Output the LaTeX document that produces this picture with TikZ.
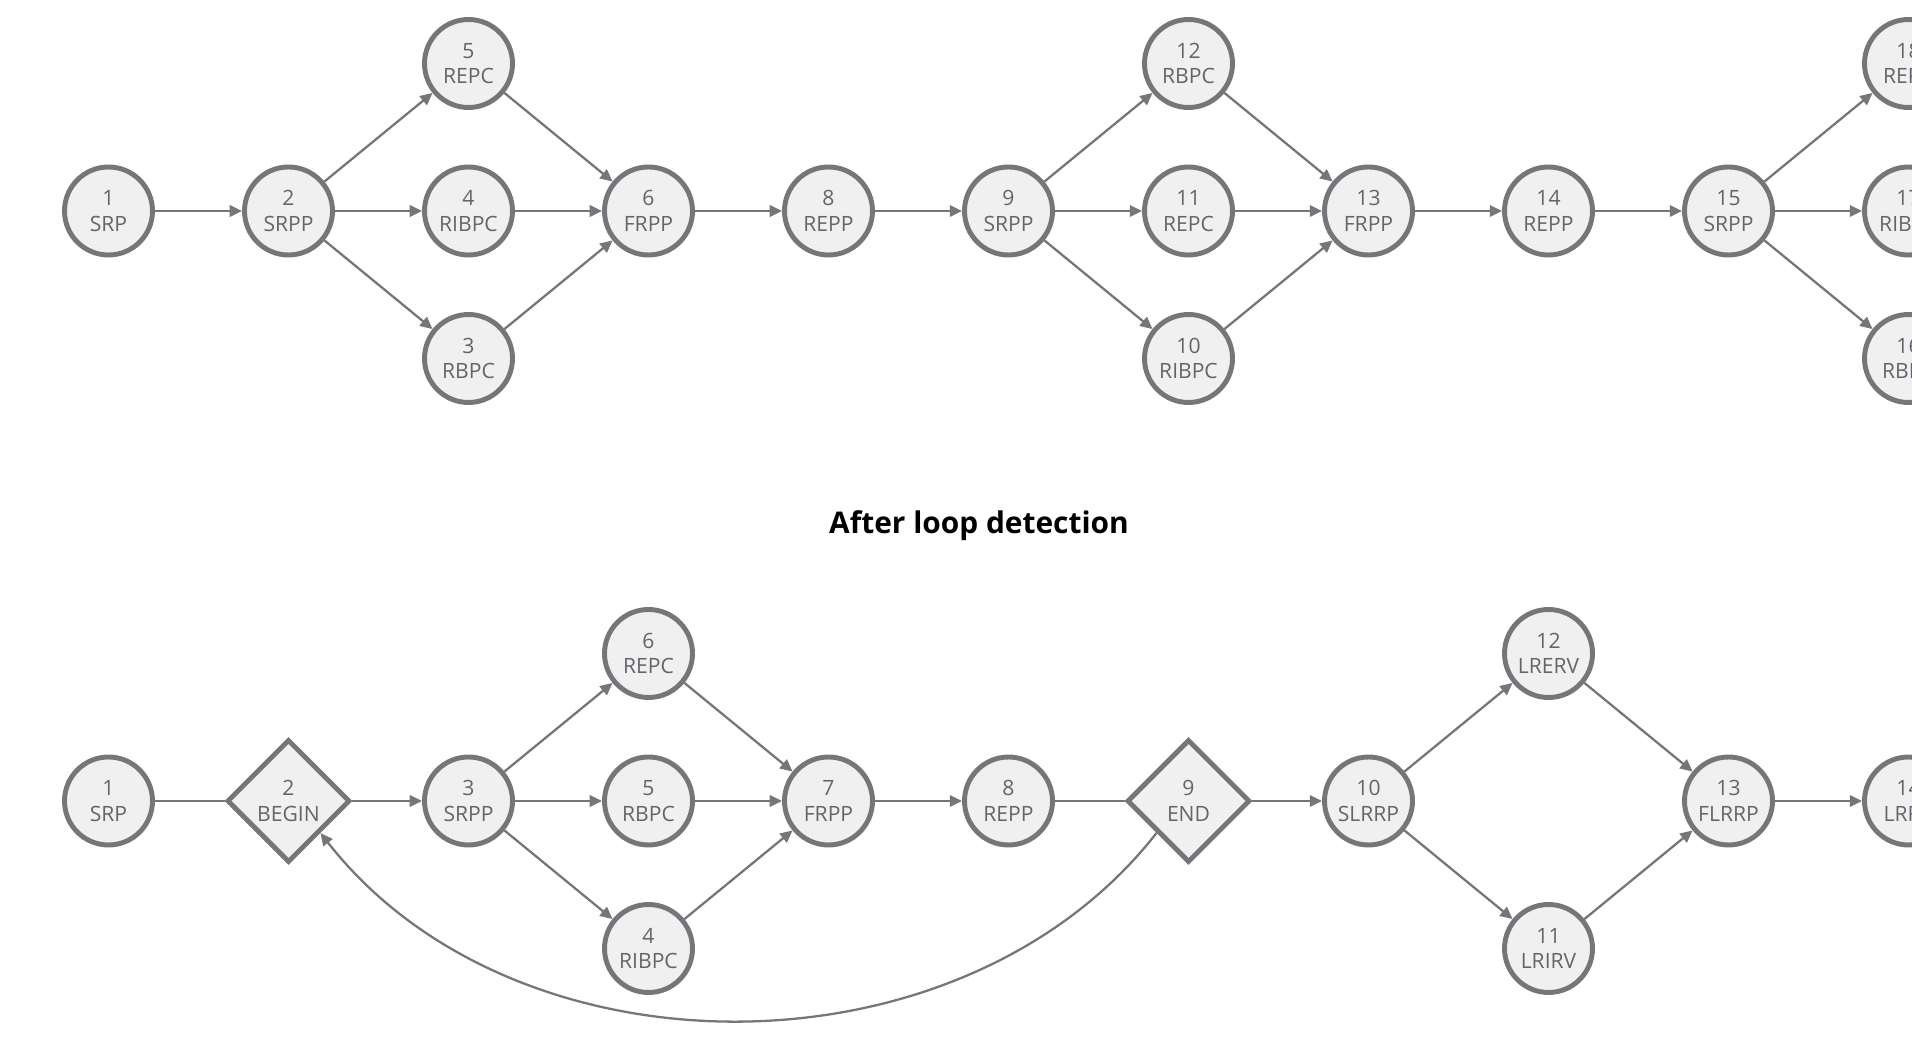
\documentclass[tikz,border=0pt]{standalone}
\usepackage{fontspec}
\setmainfont{Open Sans}
\usetikzlibrary{shapes.geometric,arrows.meta}
\definecolor{edgegray}{RGB}{118,118,122}
\definecolor{nodefill}{RGB}{240,240,240}
\definecolor{textgray}{RGB}{100,100,106}

\begin{document}
\begin{tikzpicture}[x=3.6cm, y=2.95cm, >={Triangle[length=7pt,width=6.5pt]}]
      \tikzset{
  stepnode/.style={
    circle,
    draw=edgegray,
    fill=nodefill,
    line width=2.8pt,
    minimum size=1.76cm,
    inner sep=0pt,
    align=center,
    text=textgray,
    font=\fontsize{12}{14.5}\selectfont
  },
  gatenode/.style={
    diamond,
    aspect=1,
    draw=edgegray,
    fill=nodefill,
    line width=2.8pt,
    minimum size=2.46cm,
    inner sep=0pt,
    align=center,
    text=textgray,
    font=\fontsize{12}{14.5}\selectfont
  },
  flow/.style={
    draw=edgegray,
    line width=1.3pt
  }
}

\clip (-2.17cm,4.22cm) rectangle (36.07cm,-16.66cm);

% before loop detection
\foreach \n/\t/\x/\y in {1/SRP/0/0, 2/SRPP/1/0, 5/REPC/2/1, 4/RIBPC/2/0, 3/RBPC/2/-1,
    6/FRPP/3/0, 8/REPP/4/0, 9/SRPP/5/0, 12/RBPC/6/1, 11/REPC/6/0, 10/RIBPC/6/-1,
    13/FRPP/7/0, 14/REPP/8/0, 15/SRPP/9/0, 18/REPC/10/1, 17/RIBPC/10/0, 16/RBPC/10/-1}
  \node [stepnode] (top-\n) at (\x,\y) {\n\\\t};

\foreach \a/\b in {1/2,2/5,2/4,2/3,5/6,4/6,3/6,6/8,8/9,9/12,9/11,9/10,
    12/13,11/13,10/13,13/14,14/15,15/18,15/17,15/16}
  \draw [flow,->] (top-\a) -- (top-\b);

\node [font=\bfseries\fontsize{17}{20}\selectfont, text=black] (caption) at (17.41cm,-6.29cm) {After loop detection};

% after loop detection
\foreach \n/\t/\x/\y in {1/SRP/0/-4, 3/SRPP/2/-4, 6/REPC/3/-3, 5/RBPC/3/-4, 4/RIBPC/3/-5,
    7/FRPP/4/-4, 8/REPP/5/-4, 10/SLRRP/7/-4, 12/LRERV/8/-3, 11/LRIRV/8/-5,
    13/FLRRP/9/-4, 14/LRRP/10/-4}
  \node [stepnode] (bot-\n) at (\x,\y) {\n\\\t};

\foreach \n/\t/\x in {2/BEGIN/1, 9/END/6}
  \node [gatenode] (bot-\n) at (\x,-4) {\n\\\t};

\foreach \a/\b in {1/2,8/9}
  \draw [flow] (bot-\a) -- (bot-\b);

\foreach \a/\b in {2/3,3/6,3/5,3/4,6/7,5/7,4/7,7/8,9/10,10/12,10/11,12/13,11/13,13/14}
  \draw [flow,->] (bot-\a) -- (bot-\b);

\draw [flow,->] (bot-9.south west) .. controls +(-3.9cm,-5cm) and +(3.9cm,-5cm) .. (bot-2.south east);
    \end{tikzpicture}
\end{document}
